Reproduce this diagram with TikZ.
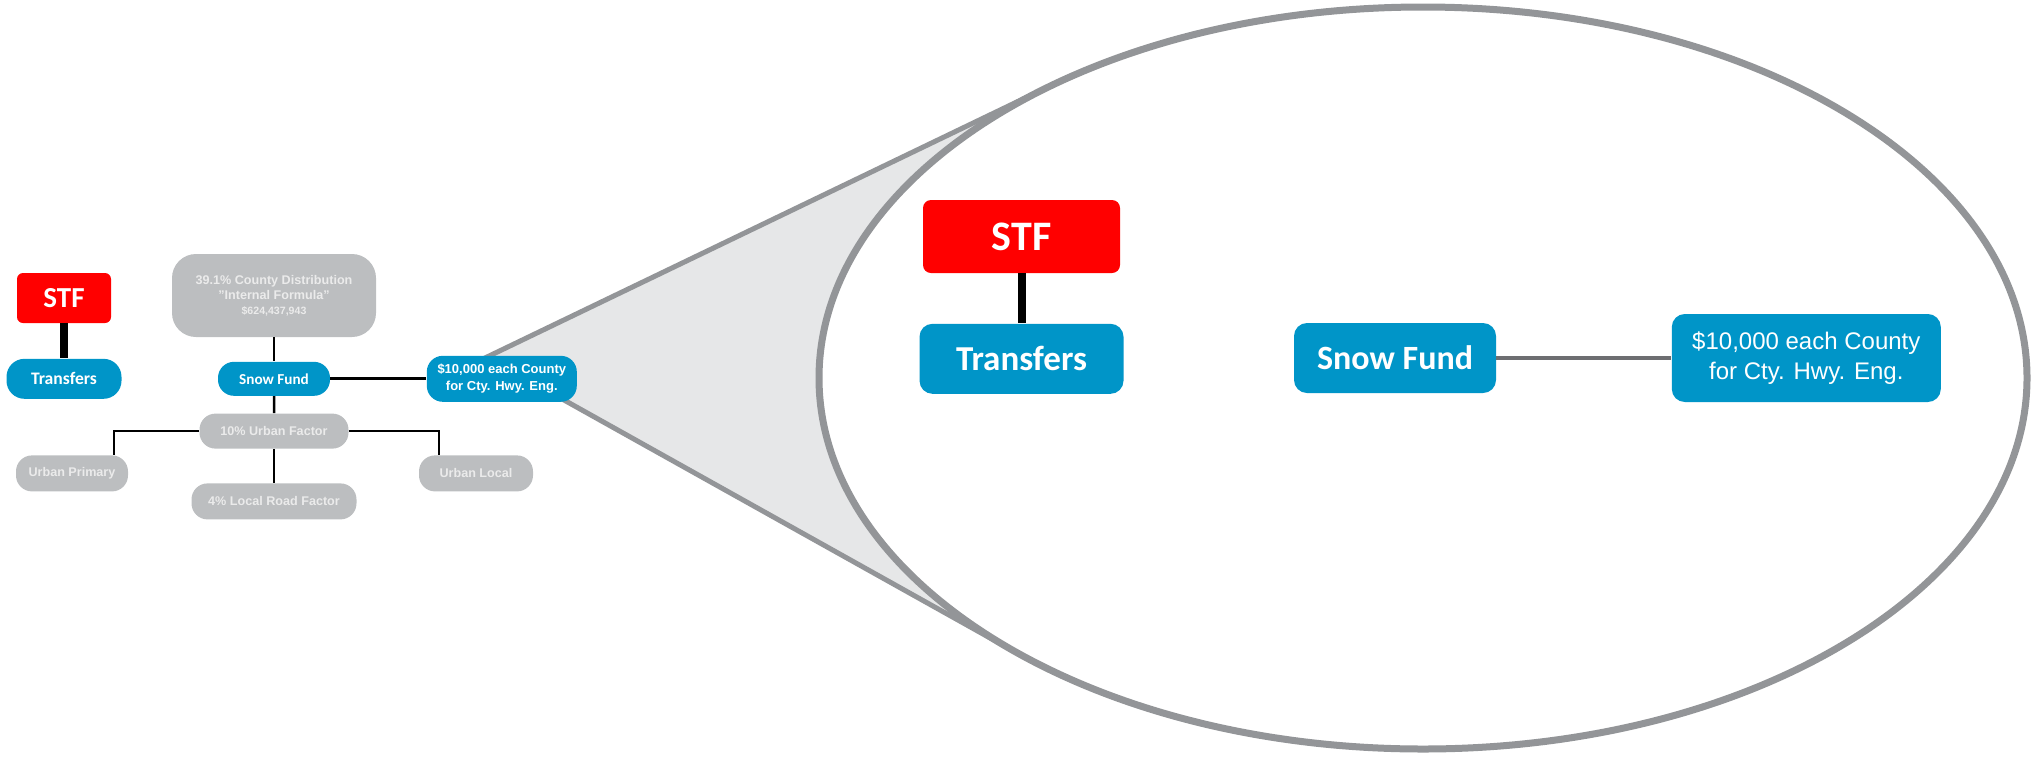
\documentclass[tikz,border=0pt]{standalone}
\usepackage{fontspec}
\setmainfont{Liberation Sans}
\newfontfamily\boxfont{Carlito}
\usetikzlibrary{positioning}
\definecolor{stfred}{HTML}{FF0000}
\definecolor{fundblue}{HTML}{0095C8}
\definecolor{fadegray}{HTML}{BCBEC0}
\definecolor{lensgray}{HTML}{939598}
\definecolor{conegray}{HTML}{E6E7E8}
\definecolor{linkgray}{HTML}{6D6E71}
\begin{document}
\begin{tikzpicture}[x=0.5pt, y=-0.5pt,
            every node/.style={rectangle, align=center, inner sep=0pt, text=white},
            level/.style={growth parent anchor=south},
            every child node/.style={anchor=north},
            edge from parent/.style={draw, line width=1.25pt},
            stf box/.style={fill=stfred, rounded corners=3pt},
            fund box/.style={fill=fundblue, rounded corners=8pt},
            fade box/.style={fill=fadegray, rounded corners=8pt, text=white!92!black,
                font=\bfseries\fontsize{6.3}{7.5}\selectfont}]
    \useasboundingbox (0,0) rectangle (2032,756);
    \coordinate (apex) at (487,357);
    \coordinate (coneTop) at (1050,86);
    \coordinate (coneBot) at (1017,653);
    \fill [conegray] (apex) -- (coneTop) -- (coneBot) -- cycle;
    \draw [lensgray, line width=2.5pt] (coneTop) -- (apex) -- (coneBot);
    \draw [lensgray, line width=3.5pt, fill=white] (1423,378) ellipse [x radius=302pt, y radius=185.5pt];

    \node [stf box, minimum width=47pt, minimum height=25pt, font=\boxfont\bfseries\fontsize{14.5}{16}\selectfont] (STF) at (64,298) {STF}
        [level distance=17.5pt, edge from parent/.style={draw, line width=4pt}]
        child {node [fund box, minimum width=57.5pt, minimum height=20pt, rounded corners=9pt, font=\boxfont\bfseries\fontsize{8.8}{10}\selectfont] (Transfers) {Transfers}};

    \node [fade box, minimum width=102pt, minimum height=41.5pt, rounded corners=12pt] (Dist) at (274,295.5)
            {39.1\% County Distribution\\"Internal Formula"\\{\fontsize{5.3}{7.5}\selectfont \$624,437,943}}
        [level distance=12pt]
        child {node [fund box, minimum width=56pt, minimum height=17pt, font=\boxfont\bfseries\fontsize{7.6}{9}\selectfont] (SnowFund) {Snow Fund}
            [level distance=8.5pt]
            child {node [fade box, minimum width=74.5pt, minimum height=17.5pt] (Urban) {10\% Urban Factor}
                [level distance=3pt, sibling distance=101pt]
                child [edge from parent path={(\tikzparentnode.west) -| ([xshift=21pt]\tikzchildnode.north)}]
                    {node [fade box, minimum width=56pt, minimum height=18pt] (UrbanPrimary) {Urban Primary}}
                child {node [fade box, minimum width=82.5pt, minimum height=18pt, yshift=-14pt] (LocalRoad) {4\% Local Road Factor}}
                child [edge from parent path={(\tikzparentnode.east) -| ([xshift=-18.5pt]\tikzchildnode.north)}]
                    {node [fade box, minimum width=57pt, minimum height=18pt] (UrbanLocal) {Urban Local}}
            }
        };
    \node [fund box, right=48pt of SnowFund, minimum width=75pt, minimum height=23pt, font=\bfseries\fontsize{6.5}{8.5}\selectfont] (Hwy)
        {\$10,000 each County\\for Cty. Hwy. Eng.};
    \draw [line width=1.5pt] (SnowFund) -- (Hwy);

    \node [stf box, minimum width=98.5pt, minimum height=36.5pt, rounded corners=4pt, font=\boxfont\bfseries\fontsize{21}{24}\selectfont] (STFzoom) at (1021.5,236.5) {STF}
        [level distance=25pt, edge from parent/.style={draw, line width=4pt}]
        child {node [fund box, minimum width=102pt, minimum height=35pt, rounded corners=6.5pt, font=\boxfont\bfseries\fontsize{17.5}{20}\selectfont] (Transferszoom) {Transfers}};
    \node [fund box, minimum width=101pt, minimum height=35pt, rounded corners=6.5pt, font=\boxfont\bfseries\fontsize{17}{20}\selectfont] (SnowFundzoom) at (1395,358) {Snow Fund};
    \node [fund box, right=87.5pt of SnowFundzoom, minimum width=134.5pt, minimum height=44pt, rounded corners=6.5pt, font=\fontsize{12}{15}\selectfont] (Hwyzoom)
        {\$10,000 each County\\for Cty. Hwy. Eng.};
    \draw [linkgray, line width=2pt] (SnowFundzoom) -- (Hwyzoom);
\end{tikzpicture}
\end{document}
